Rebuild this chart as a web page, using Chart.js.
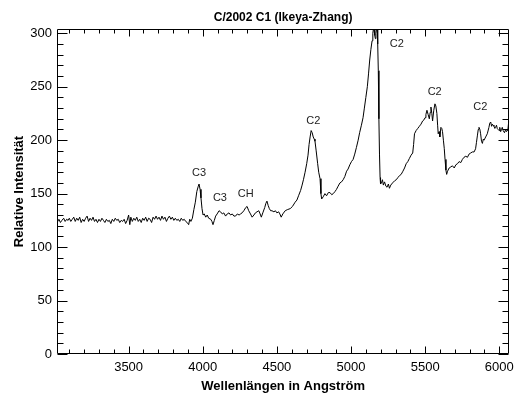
<!DOCTYPE html>
<html lang="de">
<head>
<meta charset="UTF-8">
<title>C/2002 C1 (Ikeya-Zhang)</title>
<script src="https://cdn.jsdelivr.net/npm/chart.js@4.4.1/dist/chart.umd.min.js"></script>
<style>
  html, body { margin: 0; padding: 0; background: #fff; }
  canvas { display: block; }
</style>
</head>
<body>
<canvas id="spektrum" width="520" height="394"></canvas>
<script>
// Wellenlaenge (Angstroem)
var wellenlaenge = [
  3015,3022,3030,3040,3050,3062,3072,3082,3092,3100,3110,3120,3130,3140,3150,3160,3170,3180,3190,3200,
  3210,3220,3230,3240,3250,3260,3270,3280,3290,3300,3310,3320,3330,3340,3350,3360,3370,3380,3390,3400,
  3410,3420,3430,3440,3450,3460,3470,3480,3490,3500,3508,3515,3525,3535,3545,3555,3565,3575,3585,3595,
  3605,3615,3625,3635,3645,3655,3665,3675,3685,3695,3705,3715,3725,3735,3745,3755,3765,3775,3785,3795,
  3805,3815,3825,3835,3845,3855,3865,3875,3885,3895,3905,3912,3920,3930,
  3940,3950,3960,3970,3975,3982,3988,3995,4002,4010,4020,4030,4040,4054,4062,4069,4078,4087,4097,4110,
  4120,4132,4142,4154,4165,4177,4188,4199,4210,4221,4233,4245,4255,4265,4277,4290,4299,4310,4322,4333,
  4345,4355,4366,4378,4387,4395,4405,4418,4426,4433,4441,4449,4458,4467,4480,4490,4500,4512,4520,4529,
  4540,4556,4570,4590,4605,4623,4635,4646,4660,4670,4679,4690,4701,4710,4717,4724,4731,4738,4745,4752,
  4757,4765,4775,4782,4791,4797,4802,4812,4824,4835,4847,4858,4870,4880,4892,4902,4913,4925,4936,4947,
  4958,4970,4980,4992,5003,5014,5025,5036,5048,5058,5070,5081,5090,5100,5110,5118,5126,5134,5142,5147,
  5151,5155,5160,5164,5168,5172,5177,5180,5184,5188,5192,5196,5199,5205,5212,5218,5226,5235,5243,5252,
  5259,5268,5280,5294,5305,5316,5328,5338,5350,5361,5372,5383,5394,5405,5416,5422,5428,5439,5450,5461,
  5472,5483,5492,5499,5505,5512,5520,5528,5534,5539,5545,5550,5558,5566,5572,5579,5584,5588,5594,5599,
  5606,5612,5617,5623,5629,5634,5640,5645,5651,5662,5673,5684,5696,5707,5718,5729,5740,5751,5762,5774,
  5785,5796,5807,5818,5830,5840,5846,5852,5858,5863,5869,5874,5880,5886,5892,5897,5908,5919,5930,5936,
  5942,5948,5953,5958,5964,5970,5975,5981,5986,5992,5998,6003,6009,6015,6020,6026,6035,6043,6048,6053,
  6058,6064
];

// relative Intensitaet
var intensitaet = [
  131,124,126,123,125,127,124,126,125,127,124,126,128,124,127,125,128,123,126,124,
  127,129,124,127,125,128,124,126,123,126,124,127,125,123,126,124,125,122,126,124,
  127,125,126,123,125,124,126,122,125,130,121,128,124,127,125,128,124,126,123,127,
  125,128,124,127,126,123,128,126,129,126,128,125,129,126,128,124,127,129,126,128,
  125,127,125,126,124,127,125,126,124,123,121,126,124,127,
  135,142,152,157,159,154,146,136,130,131,128,130,127,126,124,121,125,129,131,134,
  133,131,132,129,131,132,130,131,129,129,131,130,131,132,134,137,138,134,131,128,
  130,132,133,134,131,128,132,137,141,143,139,136,134,134,133,134,132,133,131,128,
  131,134,135,136,138,142,144,148,153,158,163,170,178,186,196,203,209,207,203,201,
  199,190,178,170,164,150,145,147,150,148,151,151,149,150,152,154,157,160,161,163,
  166,171,173,177,180,182,187,193,200,207,214,221,230,240,250,262,275,285,293,300,
  304,303,298,295,300,304,303,290,265,220,187,165,159,160,163,158,161,157,156,159,
  155,158,160,162,163,165,167,168,171,174,178,180,183,186,188,196,206,209,211,213,
  215,218,219,221,224,228,224,220,226,231,225,218,228,234,232,225,214,206,208,203,
  212,211,208,200,192,182,172,168,171,174,175,176,174,177,178,180,179,182,184,185,
  184,187,188,189,189,192,198,204,210,212,210,206,199,197,201,200,203,206,212,216,
  217,213,215,214,213,211,212,214,211,210,209,212,208,210,212,209,207,210,208,209,
  210,218
];

var xTicks = [3500, 4000, 4500, 5000, 5500, 6000];
var yTicks = [0, 50, 100, 150, 200, 250, 300];

// Beschriftung der Banden (Wellenlaenge, Intensitaet)
var banden = [
  { text: 'C3', x: 3975, y: 169 },
  { text: 'C3', x: 4116, y: 146 },
  { text: 'CH', x: 4290, y: 150 },
  { text: 'C2', x: 4746, y: 218 },
  { text: 'C2', x: 5309, y: 290 },
  { text: 'C2', x: 5564, y: 245 },
  { text: 'C2', x: 5872, y: 231 }
];

var punkte = wellenlaenge.map(function (w, i) { return { x: w, y: intensitaet[i] }; });

// Rahmen, Striche nach innen, Bandenbeschriftung
var rahmenPlugin = {
  id: 'rahmen',
  afterDraw: function (chart) {
    var ctx = chart.ctx, a = chart.chartArea;
    var xs = chart.scales.x, ys = chart.scales.y;
    var l = Math.round(a.left) + 0.5, r = Math.round(a.right) - 0.5;
    var t = Math.round(a.top) + 0.5, b = Math.round(a.bottom) - 0.5;
    ctx.save();
    ctx.strokeStyle = '#000';
    ctx.lineWidth = 1;
    ctx.beginPath();
    var v, p, len;
    for (v = 3100; v <= 6000; v += 100) {
      p = Math.round(xs.getPixelForValue(v)) + 0.5;
      len = (v % 500 === 0) ? 7 : 4;
      ctx.moveTo(p, b); ctx.lineTo(p, b - len);
      ctx.moveTo(p, t); ctx.lineTo(p, t + len);
    }
    for (v = 0; v <= 300; v += 10) {
      p = Math.round(ys.getPixelForValue(v)) + 0.5;
      len = (v % 50 === 0) ? 10 : 6;
      ctx.moveTo(l, p); ctx.lineTo(l + len, p);
      ctx.moveTo(r, p); ctx.lineTo(r - len, p);
    }
    ctx.moveTo(l, t); ctx.lineTo(r, t); ctx.lineTo(r, b); ctx.lineTo(l, b); ctx.closePath();
    ctx.stroke();

    ctx.fillStyle = '#222';
    ctx.font = '11px Arial, "Liberation Sans", sans-serif';
    ctx.textAlign = 'center';
    ctx.textBaseline = 'middle';
    banden.forEach(function (bd) {
      ctx.fillText(bd.text, xs.getPixelForValue(bd.x), ys.getPixelForValue(bd.y));
    });
    ctx.restore();
  }
};

var schrift = 'Arial, "Liberation Sans", sans-serif';

new Chart(document.getElementById('spektrum'), {
  type: 'line',
  data: {
    datasets: [{
      data: punkte,
      borderColor: '#000',
      borderWidth: 1,
      pointRadius: 0,
      tension: 0,
      fill: false
    }]
  },
  options: {
    responsive: false,
    animation: false,
    devicePixelRatio: 1,
    layout: { padding: { left: 0, right: 7, top: 0, bottom: 0 } },
    plugins: {
      legend: { display: false },
      tooltip: { enabled: false },
      title: {
        display: true,
        fullSize: false,
        text: 'C/2002 C1 (Ikeya-Zhang)',
        color: '#000',
        font: { family: schrift, size: 12, weight: 'bold' },
        padding: { top: 10, bottom: 4.6 }
      }
    },
    scales: {
      x: {
        type: 'linear',
        min: 3017,
        max: 6067,
        afterBuildTicks: function (s) { s.ticks = xTicks.map(function (t) { return { value: t }; }); },
        afterFit: function (s) { s.height = 40; },
        grid: { display: false, drawTicks: false },
        border: { display: false },
        ticks: {
          color: '#000', padding: 6, maxRotation: 0,
          font: { family: schrift, size: 13 },
          callback: function (val) { return String(val); }
        },
        title: {
          display: true,
          text: 'Wellenlängen in Angström',
          color: '#000',
          padding: { top: 0, bottom: 0 },
          font: { family: schrift, size: 13, weight: 'bold' }
        }
      },
      y: {
        min: 0,
        max: 304,
        afterBuildTicks: function (s) { s.ticks = yTicks.map(function (t) { return { value: t }; }); },
        afterFit: function (s) { s.width = 57; },
        grid: { display: false, drawTicks: false },
        border: { display: false },
        ticks: {
          color: '#000', padding: 5,
          font: { family: schrift, size: 13 },
          callback: function (val) { return String(val); }
        },
        title: {
          display: true,
          text: 'Relative Intensität',
          color: '#000',
          padding: { top: 12, bottom: 0 },
          font: { family: schrift, size: 13, weight: 'bold' }
        }
      }
    }
  },
  plugins: [rahmenPlugin]
});
</script>
</body>
</html>
